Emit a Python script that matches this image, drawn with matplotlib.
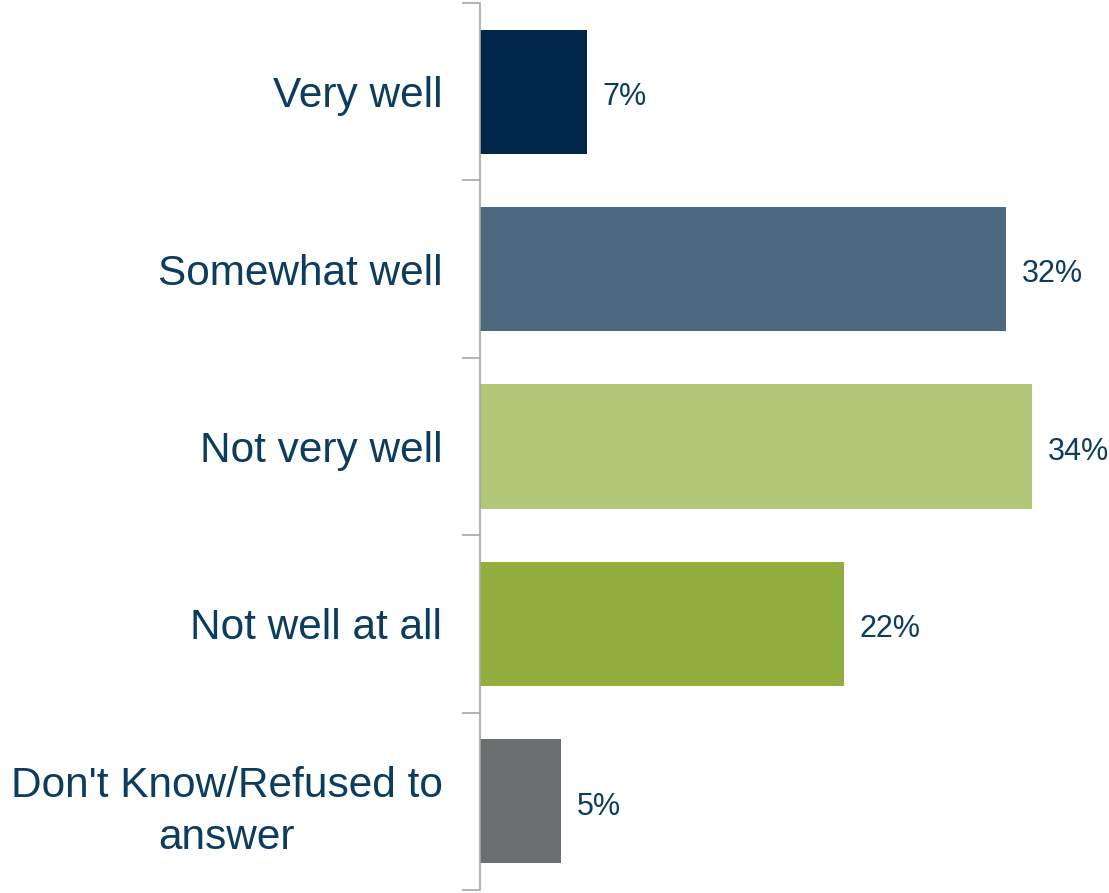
import matplotlib.pyplot as plt

categories = ['Very well', 'Somewhat well', 'Not very well', 'Not well at all',
              "Don't Know/Refused to\nanswer"]
values = [6.6, 32.4, 34.0, 22.4, 5.0]
labels = ['7%', '32%', '34%', '22%', '5%']
colors = ['#00274a', '#4d687f', '#b1c677', '#91ae3f', '#6d6e70']
text_color = '#0c3c5e'

plt.rcParams['font.family'] = ['Liberation Sans', 'DejaVu Sans']

fig = plt.figure(figsize=(11.09, 8.93), dpi=100)
ax = fig.add_axes([480 / 1109, 3 / 893, 629 / 1109, 887 / 893])

pos = list(range(len(categories)))
ax.barh(pos, values, height=0.70, color=colors)
ax.set_ylim(len(categories) - 0.5, -0.5)
ax.set_xlim(0, 629 / 16.24)

for p, v, lab in zip(pos, values, labels):
    ax.text(v + 0.95, p + 0.03, lab, va='center', ha='left', fontsize=22, color=text_color)

# ticks at category boundaries, labels in the middle
ax.set_yticks([p - 0.5 for p in pos] + [len(pos) - 0.5])
ax.set_yticklabels([])
ax.set_yticks(pos, minor=True)
ax.set_yticklabels(categories, minor=True, fontsize=30.5, color=text_color,
                   multialignment='center', linespacing=1.4)
ax.tick_params(axis='y', which='minor', length=0, pad=27)
ax.tick_params(axis='y', which='major', length=13, color='#a6a6a6', width=1.2)
ax.set_xticks([])

for s in ['top', 'right', 'bottom']:
    ax.spines[s].set_visible(False)
ax.spines['left'].set_color('#a6a6a6')
ax.spines['left'].set_linewidth(1.2)

fig.savefig('out.png', dpi=100)
